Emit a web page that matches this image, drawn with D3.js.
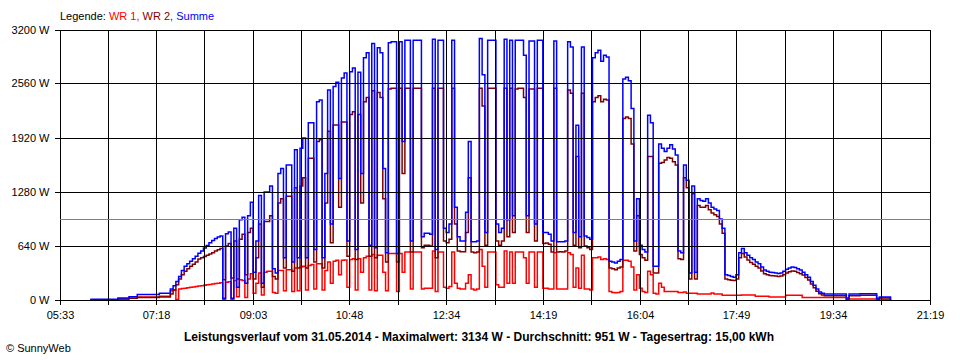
<!DOCTYPE html>
<html><head><meta charset="utf-8">
<script src="https://cdn.jsdelivr.net/npm/d3@7"></script>
<style>
body{margin:0;background:#fff}
svg{display:block}
text{font-family:"Liberation Sans",Arial,sans-serif}
</style>
</head><body>
<svg id="chart" width="960" height="360"></svg>
<script>
// ---- data (3-minute samples starting 06:06) ----
const startMinute = 366;   // 06:06
const stepMinutes = 3;
const summe = [
8,8,8,8,8,8,8,8,8,8,
25,25,25,25,40,40,40,65,65,65,
65,65,65,65,65,80,80,80,80,130,
170,220,280,350,400,430,460,490,520,555,
580,615,645,680,705,730,748,760,20,785,
805,20,850,150,950,980,200,1000,1160,330,
700,1240,200,1280,1280,1350,370,320,1500,1560,
500,1600,1600,450,1780,500,1800,1920,500,2100,
2100,600,2350,2370,500,1500,2490,900,2530,2580,
1440,2630,2690,700,2705,2750,600,2700,1500,2870,
2930,650,3040,620,2990,2930,1560,560,3050,3060,
3060,550,3060,1880,3080,3080,700,3080,3080,3080,
750,790,790,780,3090,600,3080,3080,850,800,
900,3080,1100,750,700,700,1040,1880,690,690,
700,3100,2670,800,3080,3080,3080,900,800,850,
3090,950,3080,1000,3080,3080,3080,2900,1000,3070,
3070,900,3080,3080,800,800,780,700,3070,690,
690,690,700,3060,3000,800,2070,750,3000,760,
740,720,2870,2930,2960,2830,2900,2880,460,450,
440,460,480,2620,2640,2600,2270,700,1200,650,
600,570,2190,2100,400,400,1850,1800,1760,1800,
1840,1790,1720,580,560,1600,1420,320,1350,330,
1200,1180,1170,1200,1150,1100,1080,1060,960,850,
300,290,280,270,300,560,610,560,530,500,
480,450,430,390,355,340,330,325,320,315,
320,340,365,380,390,385,370,355,330,300,
270,220,175,130,95,80,70,70,70,70,
70,70,70,70,25,70,70,70,70,75,
75,75,75,75,75,20,35,35,35,35,0
];
const wr2 = [
4,4,4,4,4,4,4,4,4,4,
12,12,12,12,20,20,20,30,30,30,
30,30,30,30,30,35,35,35,35,70,
120,180,250,300,340,370,400,425,450,485,
500,515,530,545,560,580,595,610,240,640,
670,260,700,250,720,780,300,800,850,250,
500,900,150,930,930,1000,280,250,1150,1200,
380,1230,1230,340,1330,380,1350,1450,380,1680,
1680,450,1880,1900,380,1150,2000,680,2073,2073,
1100,2110,2110,520,2200,2230,480,2200,1150,2350,
2400,520,2480,500,2460,2400,1200,450,2500,2510,
2510,450,2510,1500,2510,2510,570,2510,2510,2510,
620,650,650,640,2510,500,2510,2510,700,680,
720,2510,900,580,573,573,800,1450,570,560,
570,2510,2300,650,2510,2510,2510,700,650,700,
2510,750,2510,800,2500,2510,2510,2400,800,2500,
2500,700,2510,2510,670,675,660,570,2510,570,
573,570,580,2490,2450,650,1700,620,2450,640,
620,600,2350,2400,2420,2350,2380,2370,380,370,
360,380,390,2150,2170,2150,1850,580,1000,540,
500,470,1700,1700,320,320,1620,1630,1660,1690,
1680,1640,1600,490,480,1450,1330,250,1260,250,
1120,1100,1100,1120,1070,1030,1010,990,900,790,
250,240,235,230,250,500,550,510,475,445,
425,400,380,345,310,300,290,288,285,280,
285,300,320,335,345,340,325,310,295,268,
238,190,145,105,75,60,50,50,50,50,
50,50,50,50,10,50,50,50,50,55,
55,55,55,55,55,10,25,25,25,25,0
];
const wr1 = [
4,4,4,4,4,4,4,4,4,4,
13,13,13,13,20,20,20,35,35,35,
35,35,35,35,35,45,45,45,45,110,
120,5,130,135,140,145,150,155,160,165,
170,175,180,185,190,195,200,205,5,210,
215,10,230,40,240,230,30,250,310,80,
200,320,60,330,340,340,90,80,350,350,
110,360,360,100,380,110,390,400,120,410,
420,130,430,430,120,350,450,200,460,470,
300,470,475,150,480,490,120,490,330,500,
520,120,540,110,530,530,330,110,550,550,
550,100,550,330,570,570,130,570,570,570,
130,140,140,140,580,100,570,570,150,140,
160,570,200,140,130,130,200,300,130,120,
130,600,400,150,570,570,570,180,150,150,
580,200,570,200,570,570,570,500,200,570,
570,150,570,570,140,140,130,130,560,130,
130,130,130,560,540,150,380,140,530,130,
130,120,500,500,510,480,490,480,100,90,
85,90,100,470,470,460,390,120,300,140,
100,90,340,300,80,70,200,150,100,100,
100,100,100,90,90,95,80,80,80,80,
70,70,70,70,70,83,70,70,70,55,
55,55,55,55,55,55,60,60,60,60,
60,45,45,45,45,45,35,35,35,35,
35,35,55,55,55,55,55,55,30,30,
30,30,30,30,30,30,30,30,30,30,
30,30,30,30,12,12,12,12,12,12,
12,12,12,12,12,12,12,5,5,5,0
];
const averageW = 951;
const yTickValues = [0, 640, 1280, 1920, 2560, 3200];
const xTickLabels = ["05:33","07:18","09:03","10:48","12:34","14:19","16:04","17:49","19:34","21:19"];
const dayStart = 333, dayEnd = 1279;  // 05:33 .. 21:19 in minutes
const legendParts = [
  {text: "Legende: ", color: "#000000"},
  {text: "WR 1, ", color: "#ff0000"},
  {text: "WR 2, ", color: "#800000"},
  {text: "Summe", color: "#0000ff"}
];
const titleText = "Leistungsverlauf vom 31.05.2014 - Maximalwert: 3134 W - Durchschnitt: 951 W - Tagesertrag: 15,00 kWh";

// ---- drawing ----
const svg = d3.select("#chart");
const L = 60, R = 930, T = 30, B = 300;
const x = d3.scaleLinear().domain([dayStart, dayEnd]).range([L, R]);
const y = d3.scaleLinear().domain([0, 3200]).range([B, T]);
const gridMinutes = d3.range(19).map(k => dayStart + k * (dayEnd - dayStart) / 18);
const snap = v => Math.round(v) + 0.5;

const times = summe.map((_, i) => startMinute + i * stepMinutes);
const line = d3.line().x((d, i) => x(times[i])).y(d => y(d)).curve(d3.curveStepAfter);

const series = [
  {values: wr1, color: "#ff0000"},
  {values: wr2, color: "#800000"},
  {values: summe, color: "#0000ff"}
];
svg.append("g").selectAll("path").data(series).join("path")
  .attr("d", s => line(s.values))
  .attr("fill", "none")
  .attr("stroke", s => s.color)
  .attr("stroke-width", 1.5)
  .attr("stroke-linejoin", "miter");

// grid (drawn over data like the original)
const grid = svg.append("g").attr("shape-rendering", "crispEdges");
grid.selectAll("line.h").data(yTickValues).join("line").attr("class", "h")
  .attr("x1", L).attr("x2", R + 0.5)
  .attr("y1", d => snap(y(d) - 0.5)).attr("y2", d => snap(y(d) - 0.5))
  .attr("stroke", "#000").attr("stroke-width", 1);
grid.selectAll("line.v").data(gridMinutes).join("line").attr("class", "v")
  .attr("x1", d => snap(x(d) - 0.5)).attr("x2", d => snap(x(d) - 0.5))
  .attr("y1", T).attr("y2", B)
  .attr("stroke", "#000").attr("stroke-width", 1);
// average line
grid.append("line")
  .attr("x1", L).attr("x2", R)
  .attr("y1", snap(y(averageW) - 0.5)).attr("y2", snap(y(averageW) - 0.5))
  .attr("stroke", "#808080").attr("stroke-width", 1);

// axes
const yAxis = d3.axisLeft(y).tickValues(yTickValues).tickSize(5).tickPadding(5)
  .tickFormat(d => d + " W");
const gy = svg.append("g").attr("transform", `translate(${L - 0.5},0)`).call(yAxis);
gy.select(".domain").remove();
gy.selectAll(".tick line").attr("stroke", "#000").attr("shape-rendering", "crispEdges");
gy.selectAll(".tick").attr("transform", d => `translate(0,${snap(y(d) - 0.5)})`);

const xAxis = d3.axisBottom(x).tickValues(gridMinutes).tickSize(5).tickPadding(7)
  .tickFormat((d, i) => i % 2 === 0 ? xTickLabels[i / 2] : "");
const gx = svg.append("g").attr("transform", `translate(0,${B - 0.5})`).call(xAxis);
gx.select(".domain").remove();
gx.selectAll(".tick line").attr("stroke", "#000").attr("shape-rendering", "crispEdges");
gx.selectAll(".tick").attr("transform", d => `translate(${snap(x(d) - 0.5)},0)`);

svg.selectAll(".tick text").attr("fill", "#000").style("font-size", "11px")
  .style("font-family", '"Liberation Sans",Arial,sans-serif');

// legend
const lg = svg.append("text").attr("x", 60).attr("y", 20).style("font-size", "11px");
lg.selectAll("tspan").data(legendParts).join("tspan")
  .attr("fill", d => d.color).text(d => d.text).attr("xml:space", "preserve");

// title
svg.append("text").attr("x", 479).attr("y", 341).attr("text-anchor", "middle")
  .style("font-size", "12px").style("font-weight", "bold").text(titleText);

// copyright
svg.append("text").attr("x", 6).attr("y", 352).style("font-size", "11px").text("\u00A9 SunnyWeb");
</script>
</body></html>
